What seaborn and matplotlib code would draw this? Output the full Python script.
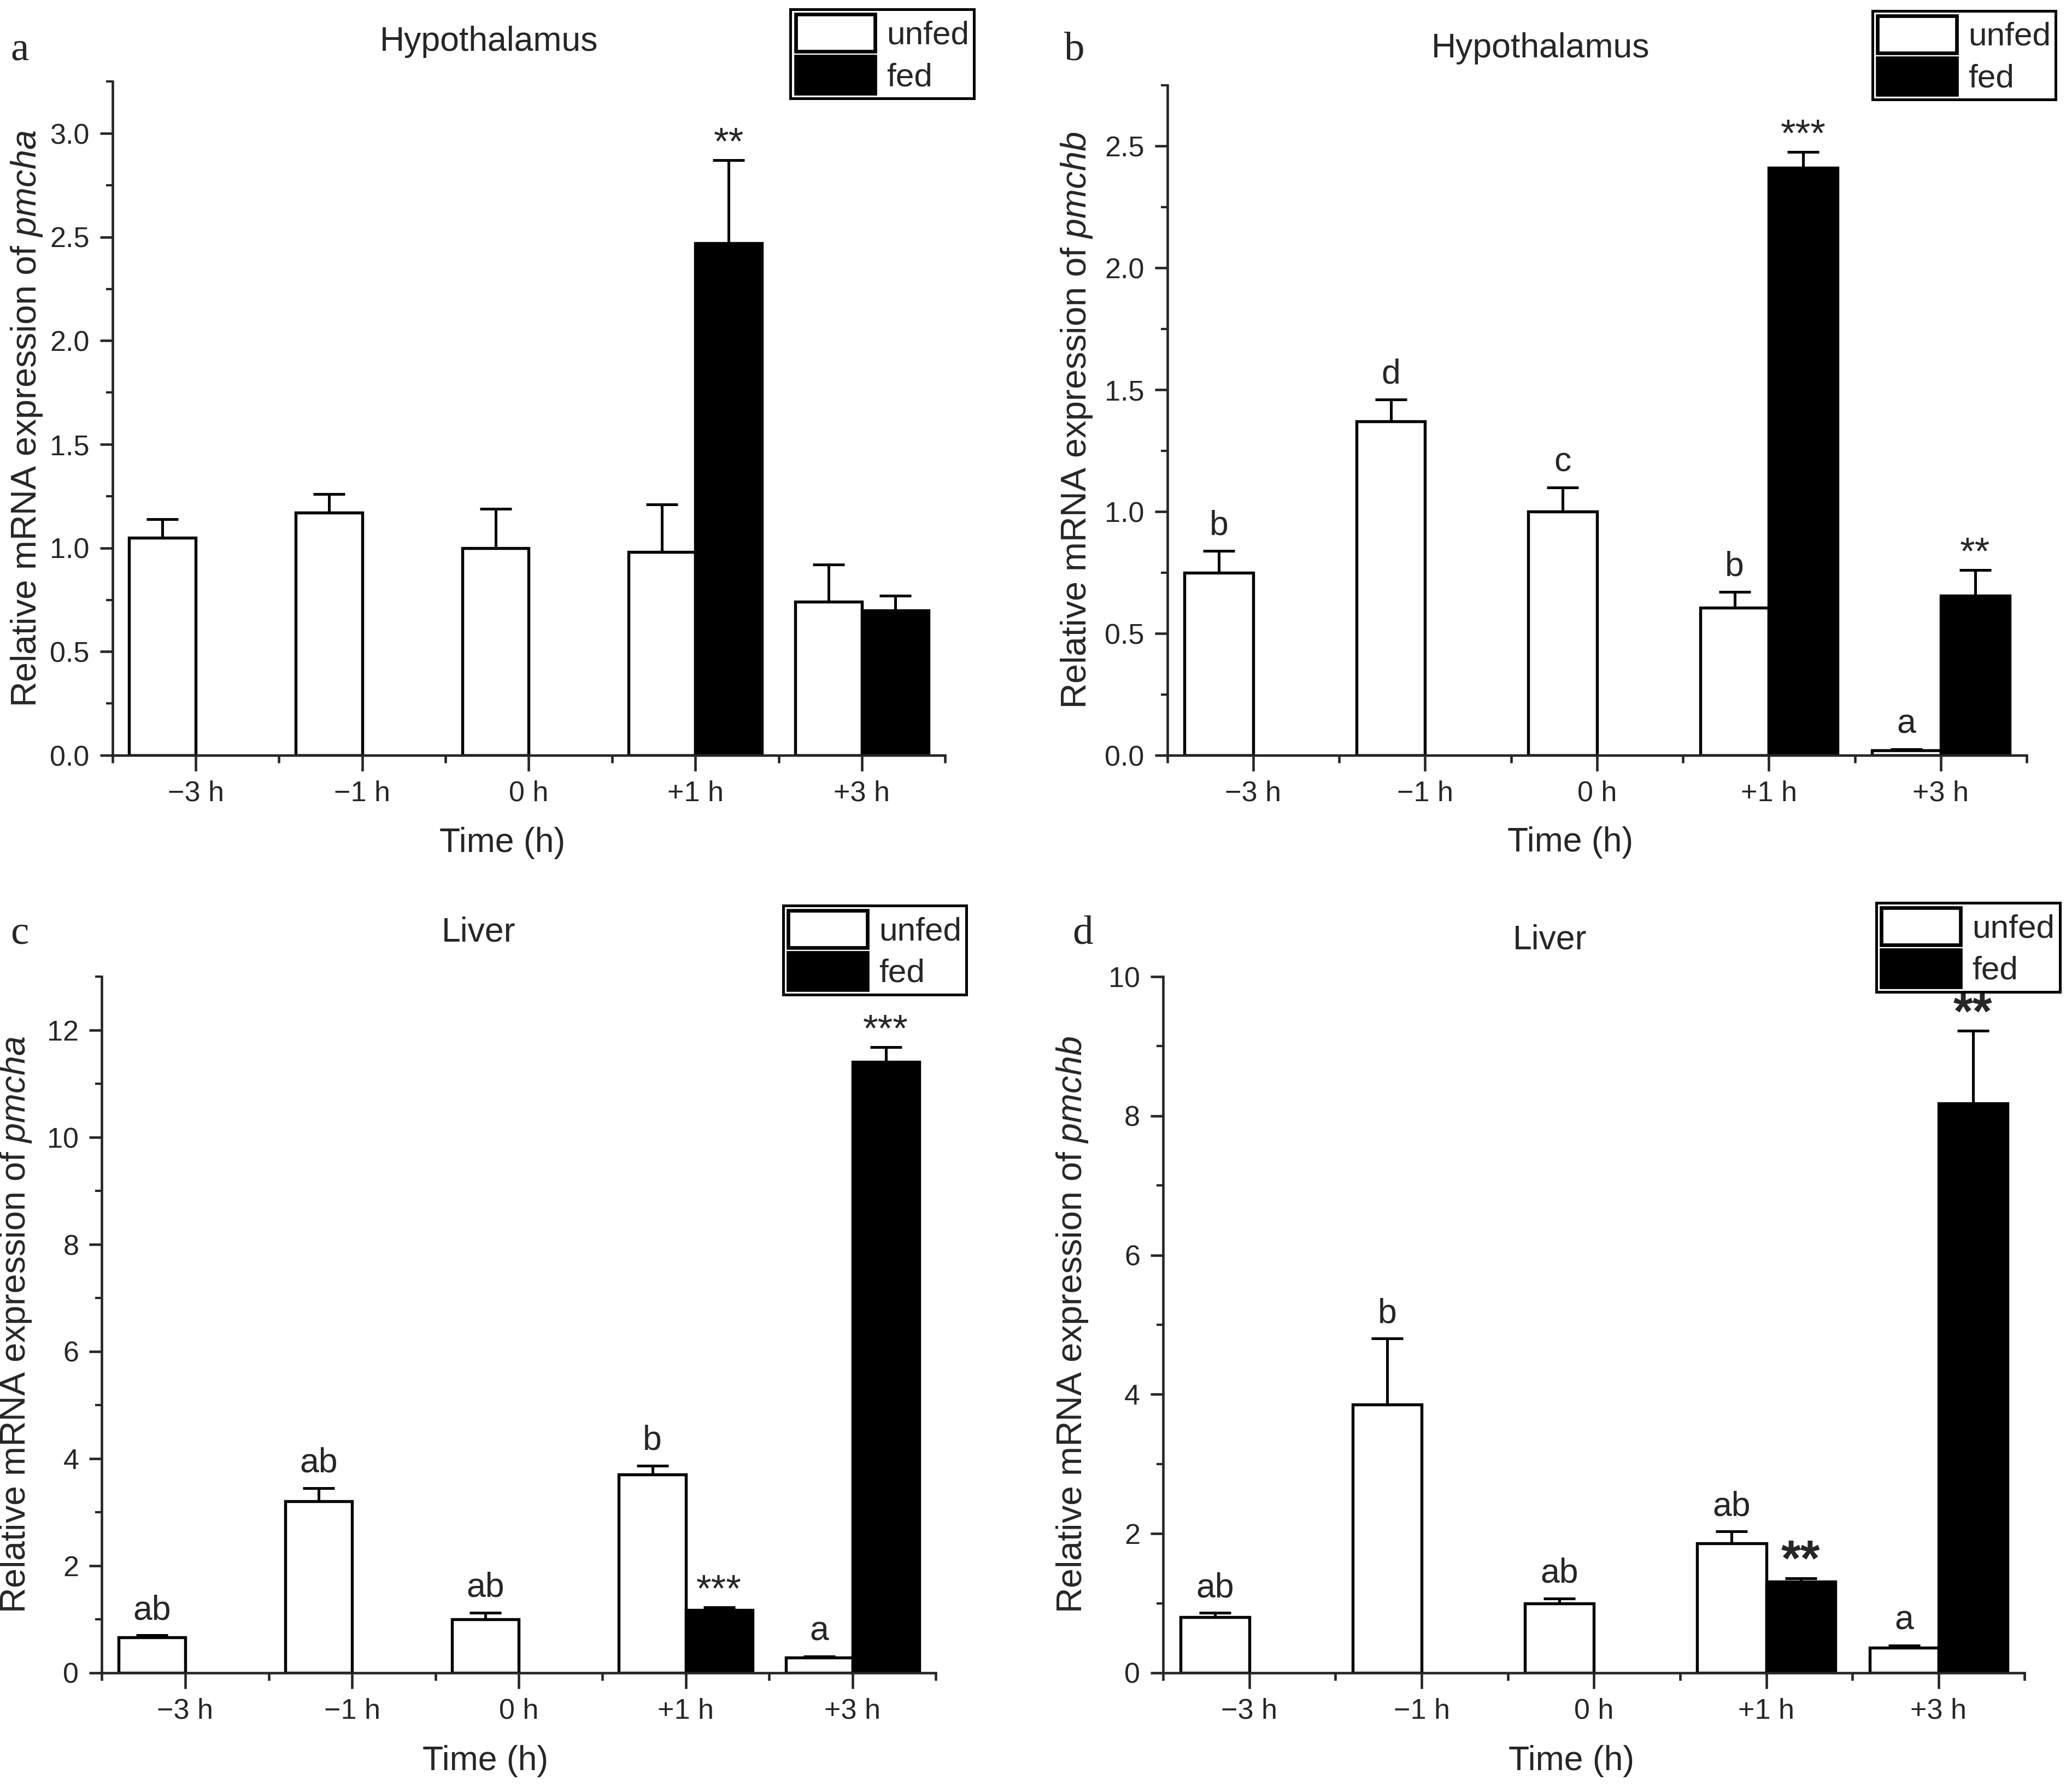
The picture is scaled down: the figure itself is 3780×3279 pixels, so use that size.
import numpy as np
import pandas as pd
import matplotlib
matplotlib.use("Agg")
import matplotlib.pyplot as plt
from matplotlib.patches import Patch
from matplotlib.ticker import MultipleLocator, FormatStrFormatter, FixedLocator
import seaborn as sns

# categories
times = ["\u22123 h", "\u22121 h", "0 h", "+1 h", "+3 h"]
groups = ["unfed", "fed"]

# a: hypothalamus pmcha
a_unfed = [1.05, 1.17, 1.00, 0.98, 0.74]
a_unfed_err = [0.09, 0.09, 0.19, 0.23, 0.18]
a_fed = [np.nan, np.nan, np.nan, 2.47, 0.70]
a_fed_err = [np.nan, np.nan, np.nan, 0.40, 0.07]
a_letters = ["", "", "", "", ""]
a_stars = ["", "", "", "**", ""]

# b: hypothalamus pmchb
b_unfed = [0.75, 1.37, 1.00, 0.605, 0.02]
b_unfed_err = [0.09, 0.09, 0.10, 0.065, 0.005]
b_fed = [np.nan, np.nan, np.nan, 2.41, 0.655]
b_fed_err = [np.nan, np.nan, np.nan, 0.065, 0.105]
b_letters = ["b", "d", "c", "b", "a"]
b_stars = ["", "", "", "***", "**"]

# c: liver pmcha
c_unfed = [0.66, 3.20, 1.00, 3.70, 0.29]
c_unfed_err = [0.04, 0.25, 0.12, 0.17, 0.02]
c_fed = [np.nan, np.nan, np.nan, 1.17, 11.41]
c_fed_err = [np.nan, np.nan, np.nan, 0.05, 0.27]
c_letters = ["ab", "ab", "ab", "b", "a"]
c_stars = ["", "", "", "***", "***"]

# d: liver pmchb
d_unfed = [0.80, 3.85, 1.00, 1.86, 0.36]
d_unfed_err = [0.06, 0.95, 0.07, 0.17, 0.03]
d_fed = [np.nan, np.nan, np.nan, 1.31, 8.18]
d_fed_err = [np.nan, np.nan, np.nan, 0.05, 1.04]
d_letters = ["ab", "b", "ab", "ab", "a"]
d_stars = ["", "", "", "**", "**"]

sns.set_theme(style="ticks")
plt.rcParams["font.family"] = ["Liberation Sans", "DejaVu Sans"]
plt.rcParams["mathtext.fontset"] = "custom"
plt.rcParams["mathtext.rm"] = "Liberation Sans"
plt.rcParams["mathtext.it"] = "Liberation Sans:italic"
plt.rcParams["axes.linewidth"] = 1.1

fig = plt.figure(figsize=(12.6, 10.93), dpi=300)


def panel(rect, unfed, unfed_err, fed, fed_err, letters, stars, ylim, major, minor, fmt,
          title, title_xy, gene, ylab_x, xlab_xy, letter, letter_xy, leg_anchor,
          star_size=17, star_weight="normal"):
    ax = fig.add_axes(rect)
    df = pd.DataFrame({
        "time": times * 2,
        "group": ["unfed"] * len(times) + ["fed"] * len(times),
        "value": list(unfed) + list(fed),
    })
    sns.barplot(data=df, x="time", y="value", hue="group", order=times, hue_order=groups,
                palette={"unfed": "white", "fed": "black"}, edgecolor="black",
                linewidth=1.3, width=0.8, errorbar=None, ax=ax)
    if ax.get_legend() is not None:
        ax.get_legend().remove()

    pos = np.arange(len(times))
    xu = pos - 0.2
    xf = pos + 0.2
    zeros = np.zeros(len(times))
    ax.errorbar(xu, unfed, yerr=[zeros, unfed_err], fmt="none", ecolor="black",
                elinewidth=1.2, capsize=7, capthick=1.2)
    ax.errorbar(xf, fed, yerr=[zeros, fed_err], fmt="none", ecolor="black",
                elinewidth=1.2, capsize=7, capthick=1.2)

    for i, lab in enumerate(letters):
        if lab:
            ax.annotate(lab, (xu[i], unfed[i] + unfed_err[i]), xytext=(0, 11),
                        textcoords="offset points", ha="center", va="center", fontsize=15)
    for i, s in enumerate(stars):
        if s:
            ax.annotate(s, (xf[i], fed[i] + fed_err[i]), xytext=(0, 7),
                        textcoords="offset points", ha="center", va="center",
                        fontsize=star_size, fontweight=star_weight)

    ax.set_xlim(-0.5, len(times) - 0.5)
    ax.set_ylim(*ylim)
    ax.yaxis.set_major_locator(MultipleLocator(major))
    ax.yaxis.set_minor_locator(MultipleLocator(minor))
    ax.yaxis.set_major_formatter(FormatStrFormatter(fmt))
    ax.xaxis.set_minor_locator(FixedLocator(np.arange(-0.5, len(times), 1.0)))
    ax.tick_params(axis="y", which="major", length=5.6, width=1.1, pad=4.5, labelsize=12.5)
    ax.tick_params(axis="y", which="minor", length=2.8, width=1.0)
    ax.tick_params(axis="x", which="major", length=7, width=1.1, pad=4, labelsize=12.5)
    ax.tick_params(axis="x", which="minor", length=3.4, width=1.1)
    sns.despine(ax=ax)

    ax.set_xlabel("Time (h)", fontsize=15)
    ax.set_ylabel("Relative mRNA expression of $\\mathit{" + gene + "}$", fontsize=15.5)
    ax.xaxis.set_label_coords(*xlab_xy)
    ax.yaxis.set_label_coords(ylab_x, 0.5)
    ax.text(title_xy[0], title_xy[1], title, transform=ax.transAxes, ha="center",
            va="center", fontsize=15)
    fig.text(letter_xy[0], letter_xy[1], letter, family="Liberation Serif", fontsize=18,
             ha="left", va="center")

    handles = [Patch(facecolor="white", edgecolor="black", linewidth=1.6, label="unfed"),
               Patch(facecolor="black", edgecolor="black", linewidth=1.6, label="fed")]
    leg = ax.legend(handles=handles, loc="upper right", bbox_to_anchor=leg_anchor,
                    bbox_transform=fig.transFigure, frameon=True, fancybox=False,
                    edgecolor="black", framealpha=1, fontsize=14.5, handlelength=2.4,
                    handleheight=1.35, labelspacing=0.15, borderpad=0.15,
                    handletextpad=0.35, borderaxespad=0)
    leg.get_frame().set_linewidth(1.2)
    return ax


panel([0.0544, 0.5785, 0.4031, 0.376], a_unfed, a_unfed_err, a_fed, a_fed_err, a_letters, a_stars,
      (0, 3.25), 0.5, 0.25, "%.1f", "Hypothalamus", (0.452, 1.059), "pmcha", -0.082,
      (0.468, -0.106), "a", (0.005, 0.972), (0.4714, 0.9948))
panel([0.565, 0.5785, 0.416, 0.374], b_unfed, b_unfed_err, b_fed, b_fed_err, b_letters, b_stars,
      (0, 2.75), 0.5, 0.25, "%.1f", "Hypothalamus", (0.434, 1.055), "pmchb", -0.085,
      (0.469, -0.106), "b", (0.515, 0.972), (0.995, 0.994))
panel([0.0493, 0.0665, 0.4037, 0.3885], c_unfed, c_unfed_err, c_fed, c_fed_err, c_letters, c_stars,
      (0, 13), 2, 1, "%d", "Liver", (0.452, 1.064), "pmcha", -0.082,
      (0.46, -0.104), "c", (0.005, 0.479), (0.4677, 0.4947))
panel([0.563, 0.0665, 0.417, 0.3885], d_unfed, d_unfed_err, d_fed, d_fed_err, d_letters, d_stars,
      (0, 10), 2, 1, "%d", "Liver", (0.449, 1.053), "pmchb", -0.085,
      (0.474, -0.104), "d", (0.519, 0.479), (0.997, 0.4962),
      star_size=22, star_weight="bold")

fig.savefig("out.png", dpi=300, facecolor="white")
